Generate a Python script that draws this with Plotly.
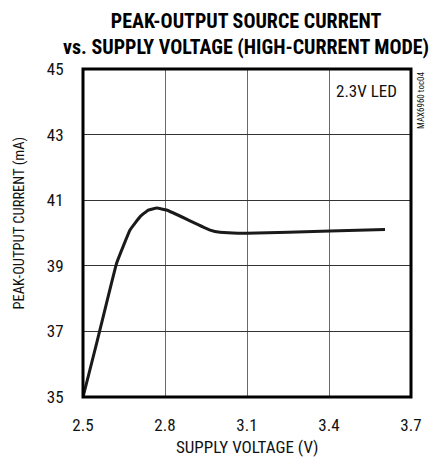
import plotly.graph_objects as go

voltage = [2.5, 2.55, 2.623, 2.672, 2.709, 2.739, 2.77, 2.806, 2.965, 3.001, 3.099, 3.404, 3.605]
current = [35.0, 36.64, 39.08, 40.09, 40.50, 40.70, 40.76, 40.70, 40.09, 40.02, 39.99, 40.06, 40.11]

x_ticks = [2.5, 2.8, 3.1, 3.4, 3.7]
y_ticks = [35, 37, 39, 41, 43, 45]

FONT = "Roboto Condensed, Liberation Sans Narrow, Arial Narrow, sans-serif"

fig = go.Figure()
fig.add_trace(go.Scatter(x=voltage, y=current, mode="lines",
                         line=dict(color="#1a1a1a", width=3, shape="spline", smoothing=0.25),
                         showlegend=False, hoverinfo="skip"))

fig.update_layout(
    width=442, height=460,
    margin=dict(l=75, r=39, t=61, b=71, autoexpand=False),
    paper_bgcolor="white", plot_bgcolor="white",
    font=dict(family=FONT, size=17, color="#111"),
)
fig.update_xaxes(range=[2.5, 3.7], tickvals=x_ticks, ticktext=[f"{v:.1f}" for v in x_ticks],
                 showgrid=True, gridcolor="#6a6a6a", gridwidth=1.2, zeroline=False,
                 ticks="outside", ticklen=0, ticklabelstandoff=13, automargin=False,
                 tickfont=dict(size=17), showline=False)
fig.update_yaxes(range=[35, 45], tickvals=y_ticks, ticktext=[str(v) for v in y_ticks],
                 showgrid=True, gridcolor="#333333", gridwidth=1.2, zeroline=False,
                 ticks="outside", ticklen=0, ticklabelstandoff=15, automargin=False,
                 tickfont=dict(size=17), showline=False)

fig.add_shape(type="rect", xref="paper", yref="paper", x0=0, y0=0, x1=1, y1=1,
              line=dict(color="#000", width=3), layer="above")

fig.add_annotation(text="<b>PEAK-OUTPUT SOURCE CURRENT<br>vs. SUPPLY VOLTAGE (HIGH-CURRENT MODE)</b>",
                   xref="paper", yref="paper", x=0.498, y=1.0, yshift=61, xanchor="center",
                   yanchor="top", align="center", showarrow=False, borderpad=0,
                   font=dict(family=FONT, size=20, color="#000"))

fig.add_annotation(text="SUPPLY VOLTAGE (V)", xref="paper", yref="paper",
                   x=0.5015, y=0, yshift=-49.5, xanchor="center", yanchor="middle", showarrow=False,
                   font=dict(family=FONT, size=17, color="#111"))
fig.add_annotation(text="PEAK-OUTPUT CURRENT (mA)", xref="paper", yref="paper",
                   x=0, xshift=-64, y=0.5, yshift=9.5, xanchor="center", yanchor="middle", textangle=-90,
                   showarrow=False, font=dict(family=FONT, size=14.5, color="#111"))

fig.add_annotation(text="2.3V LED", xref="paper", yref="paper", x=1.0, xshift=-12, y=1.0, yshift=-10,
                   xanchor="right", yanchor="top", showarrow=False,
                   font=dict(family=FONT, size=17, color="#111"))
fig.add_annotation(text="MAX6960 toc04", xref="paper", yref="paper", x=1.0, y=1.0,
                   xshift=10, xanchor="center", yanchor="top", textangle=-90, showarrow=False,
                   font=dict(family=FONT, size=9, color="#111"))

fig.write_html("out.html")
